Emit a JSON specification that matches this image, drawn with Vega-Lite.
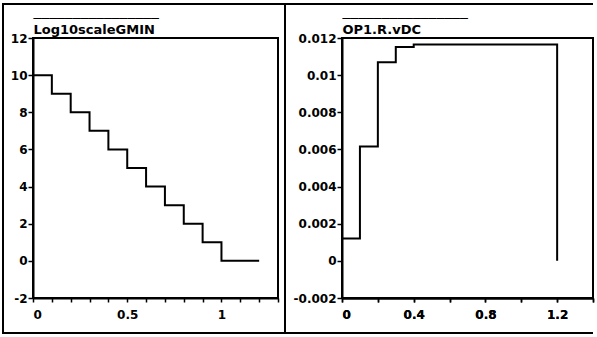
{
  "$schema": "https://vega.github.io/schema/vega-lite/v6.json",
  "padding": {"left": 1, "top": 1, "right": 0, "bottom": 1},
  "background": "white",
  "spacing": 64,
  "bounds": "flush",
  "datasets": {
    "gmin": [
      {"t": 0, "v": 10}, {"t": 0.1, "v": 9}, {"t": 0.2, "v": 8}, {"t": 0.3, "v": 7},
      {"t": 0.4, "v": 6}, {"t": 0.5, "v": 5}, {"t": 0.6, "v": 4}, {"t": 0.7, "v": 3},
      {"t": 0.8, "v": 2}, {"t": 0.9, "v": 1}, {"t": 1.0, "v": 0}, {"t": 1.2, "v": 0}
    ],
    "vdc": [
      {"t": 0, "v": 0.0012}, {"t": 0.1, "v": 0.00616}, {"t": 0.2, "v": 0.01069},
      {"t": 0.3, "v": 0.01151}, {"t": 0.4, "v": 0.01165}, {"t": 1.2, "v": 0}
    ],
    "one": [{}]
  },
  "hconcat": [
    {
      "width": 245,
      "height": 260,
      "layer": [
        {
          "data": {"name": "gmin"},
          "mark": {"type": "line", "interpolate": "step-after", "color": "black", "strokeWidth": 2},
          "encoding": {
            "x": {"field": "t", "type": "quantitative", "scale": {"domain": [0, 1.3], "nice": false, "zero": false},
              "axis": {"title": null, "orient": "bottom", "labelOverlap": false, "values": [0, 0.1, 0.2, 0.3, 0.4, 0.5, 0.6, 0.7, 0.8, 0.9, 1, 1.1, 1.2, 1.3],
                "labelExpr": "datum.value == 0 || datum.value == 0.5 || datum.value == 1 ? '' + datum.value : ''"}},
            "y": {"field": "v", "type": "quantitative", "scale": {"domain": [-2, 12], "nice": false, "zero": false},
              "axis": {"title": null, "orient": "left", "labelOverlap": false, "values": [-2, 0, 2, 4, 6, 8, 10, 12], "labelExpr": "'' + datum.value"}}
          }
        },
        {
          "data": {"name": "one"},
          "mark": {"type": "rect", "filled": false, "stroke": "black", "strokeWidth": 2},
          "encoding": {
            "x": {"datum": -0.15918, "type": "quantitative",
              "axis": {"orient": "top", "labels": false, "ticks": false, "domain": false,
                "title": ["────────────────", "Log10scaleGMIN"], "titleAnchor": "start", "titleAlign": "left",
                "titleBaseline": "bottom", "titlePadding": 2}},
            "x2": {"datum": 1.33714},
            "y": {"datum": 13.8308, "type": "quantitative",
              "axis": {"title": null, "orient": "left", "labelOverlap": false, "values": [-2, 0, 2, 4, 6, 8, 10, 12], "labelExpr": "'' + datum.value"}},
            "y2": {"datum": -3.8846}
          }
        }
      ]
    },
    {
      "width": 251,
      "height": 260,
      "layer": [
        {
          "data": {"name": "vdc"},
          "mark": {"type": "line", "interpolate": "step-after", "color": "black", "strokeWidth": 2},
          "encoding": {
            "x": {"field": "t", "type": "quantitative", "scale": {"domain": [0, 1.4], "nice": false, "zero": false},
              "axis": {"title": null, "orient": "bottom", "labelOverlap": false, "values": [0, 0.2, 0.4, 0.6, 0.8, 1, 1.2, 1.4],
                "labelExpr": "datum.value == 0 || datum.value == 0.4 || datum.value == 0.8 || datum.value == 1.2 ? '' + datum.value : ''"}},
            "y": {"field": "v", "type": "quantitative", "scale": {"domain": [-0.002, 0.012], "nice": false, "zero": false},
              "axis": {"title": null, "orient": "left", "labelOverlap": false, "values": [-0.002, 0, 0.002, 0.004, 0.006, 0.008, 0.01, 0.012], "labelExpr": "'' + datum.value"}}
          }
        },
        {
          "data": {"name": "one"},
          "mark": {"type": "rule", "stroke": "black", "strokeWidth": 2},
          "encoding": {
            "x": {"datum": -0.31792, "type": "quantitative",
              "axis": {"orient": "top", "labels": false, "ticks": false, "domain": false,
                "title": ["────────────────", "OP1.R.vDC"], "titleAnchor": "start", "titleAlign": "left",
                "titleBaseline": "bottom", "titlePadding": 2}},
            "x2": {"datum": 1.4},
            "y": {"datum": 0.0138308, "type": "quantitative",
              "axis": {"title": null, "orient": "left", "labelOverlap": false, "values": [-0.002, 0, 0.002, 0.004, 0.006, 0.008, 0.01, 0.012], "labelExpr": "'' + datum.value"}}
          }
        },
        {
          "data": {"name": "one"},
          "mark": {"type": "rule", "stroke": "black", "strokeWidth": 2},
          "encoding": {
            "x": {"datum": -0.31792, "type": "quantitative",
              "axis": {"title": null, "orient": "bottom", "labelOverlap": false, "values": [0, 0.2, 0.4, 0.6, 0.8, 1, 1.2, 1.4],
                "labelExpr": "datum.value == 0 || datum.value == 0.4 || datum.value == 0.8 || datum.value == 1.2 ? '' + datum.value : ''"}},
            "x2": {"datum": 1.4},
            "y": {"datum": -0.0038846, "type": "quantitative",
              "axis": {"title": null, "orient": "left", "labelOverlap": false, "values": [-0.002, 0, 0.002, 0.004, 0.006, 0.008, 0.01, 0.012], "labelExpr": "'' + datum.value"}}
          }
        }
      ]
    }
  ],
  "config": {
    "view": {"stroke": "black", "strokeWidth": 2},
    "axis": {
      "grid": false,
      "labelFont": "DejaVu Sans",
      "labelFontWeight": "bold",
      "labelFontSize": 12,
      "labelColor": "black",
      "titleFont": "DejaVu Sans",
      "titleFontWeight": "bold",
      "titleFontSize": 13,
      "titleColor": "black",
      "titleLineHeight": 11,
      "domainColor": "black",
      "domainWidth": 2,
      "tickColor": "black",
      "tickWidth": 1.5,
      "tickSize": 4,
      "labelPadding": 7
    },
    "axisY": {"labelPadding": 1, "tickSize": 5}
  }
}
